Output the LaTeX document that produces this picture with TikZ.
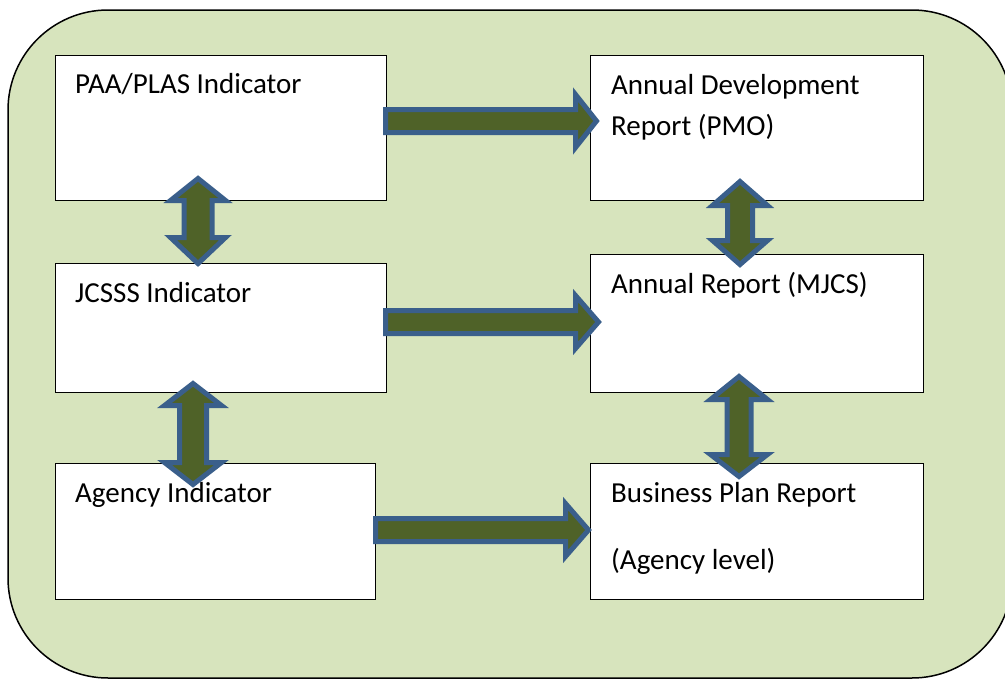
\documentclass[tikz,border=0pt]{standalone}
\usepackage{fontspec}
\setmainfont{Carlito}
\definecolor{bggreen}{HTML}{D7E4BD}
\definecolor{arrowfill}{HTML}{4F6228}
\definecolor{arrowline}{HTML}{3A5F8B}
\tikzset{
  panel/.style={draw=black, line width=1.5pt, fill=bggreen, rounded corners=100pt},
  box/.style={draw=black, line width=1pt, fill=white, rectangle, inner sep=0pt, outer sep=0pt, anchor=north west},
  label/.style={anchor=base west, inner sep=0pt, font=\fontsize{29}{35}\selectfont},
  blockarrow/.style={draw=arrowline, fill=arrowfill, line width=5pt, line join=miter}
}
% horizontal block arrow: left x, head base x, tip x, centre y (outer edges)
\newcommand\HBlockArrow[4]{%
  \draw[blockarrow] ({#1+2.5},{#4-11.5}) -- ({#2+2.5},{#4-11.5}) -- ({#2+2.5},{#4-26.5})
    -- ({#3-3.5},{#4}) -- ({#2+2.5},{#4+26.5}) -- ({#2+2.5},{#4+11.5}) -- ({#1+2.5},{#4+11.5}) -- cycle;}
% vertical double block arrow: centre x, top tip, top head base, bottom head base, bottom tip, head half, shaft half
\newcommand\VBlockArrow[7]{%
  \draw[blockarrow] ({#1},{#2+3.5}) -- ({#1+#6-2.5},{#3-2.5}) -- ({#1+#7-2.5},{#3-2.5})
    -- ({#1+#7-2.5},{#4+2.5}) -- ({#1+#6-2.5},{#4+2.5}) -- ({#1},{#5-3.5})
    -- ({#1-#6+2.5},{#4+2.5}) -- ({#1-#7+2.5},{#4+2.5}) -- ({#1-#7+2.5},{#3-2.5})
    -- ({#1-#6+2.5},{#3-2.5}) -- cycle;}
\begin{document}
\begin{tikzpicture}[x=1pt,y=-1pt]
\useasboundingbox (0,0) rectangle (1005,680);
\fill[white] (0,0) rectangle (1005,680);
\draw[panel] (8,10) rectangle (1012,678);
% boxes
\node[box, minimum width=331pt, minimum height=145pt] (b1) at (55,55) {};
\node[box, minimum width=333pt, minimum height=145pt] (b2) at (590,55) {};
\node[box, minimum width=331pt, minimum height=129pt] (b3) at (55,263) {};
\node[box, minimum width=333pt, minimum height=138pt] (b4) at (590,254) {};
\node[box, minimum width=320pt, minimum height=136pt] (b5) at (55,463) {};
\node[box, minimum width=333pt, minimum height=136pt] (b6) at (590,463) {};
% texts
\node[label] (t1) at (75,93) {PAA/PLAS Indicator};
\node[label] (t2a) at (611,94) {Annual Development};
\node[label] (t2b) at (611,135) {Report (PMO)};
\node[label] (t3) at (75,302) {JCSSS Indicator};
\node[label] (t4) at (611,293) {Annual Report (MJCS)};
\node[label] (t5) at (75,502) {Agency Indicator};
\node[label] (t6a) at (611,502) {Business Plan Report};
\node[label] (t6b) at (611,569) {(Agency level)};
% horizontal arrows
\HBlockArrow{383}{573}{600}{121}
\HBlockArrow{383}{573}{602}{322}
\HBlockArrow{373}{563}{592}{530}
% vertical double arrows
\VBlockArrow{198}{175}{203}{235}{267}{30}{16.5}
\VBlockArrow{193}{380}{408}{460}{488}{31}{16}
\VBlockArrow{740}{178}{208}{238}{268}{30}{15}
\VBlockArrow{739}{373}{402}{452}{480}{31}{14.5}
\end{tikzpicture}
\end{document}
